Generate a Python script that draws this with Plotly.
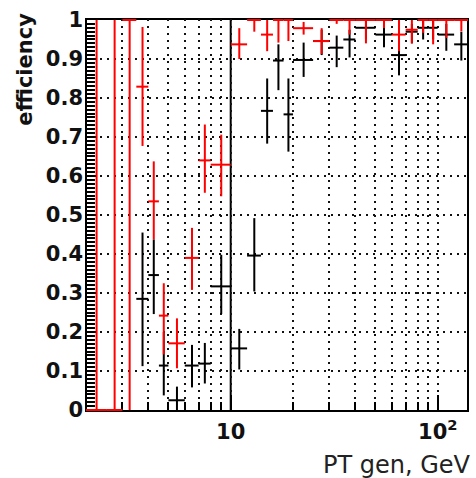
import numpy as np
import plotly.graph_objects as go

# bin edges in PT gen (GeV)
bin_lo = [2, 2.5, 3, 3.5, 4, 4.5, 5, 6, 7, 8, 10, 12, 14, 16, 18, 20, 25, 30, 35, 40, 50, 60, 70, 80, 90, 100, 120]
bin_hi = [2.5, 3, 3.5, 4, 4.5, 5, 6, 7, 8, 10, 12, 14, 16, 18, 20, 25, 30, 35, 40, 50, 60, 70, 80, 90, 100, 120, 140]

# red series: efficiency, lower bound, upper bound
red_eff = [0, 0, 1, 0.829, 0.535, 0.242, 0.171, 0.39, 0.64, 0.629, 0.9375, 1.0, 0.9625, 1.0, 1.0, 0.979, 0.946,
           1.0, 1.0, 1.0, 1.0, 0.9625, 0.975, 1.0, 1.0, 1.0, 1.0]
red_low = [0, 0, 0, 0.677, 0.4375, 0.1425, 0.107, 0.308, 0.557, 0.548, 0.90, 0.97, 0.92, 0.942, 0.946, 0.9625, 0.9125,
           0.99, 0.9625, 0.94, 0.979, 0.92, 0.94, 0.967, 0.9375, 0.954, 0.971]
red_high = [1, 1, 1, 0.982, 0.6375, 0.325, 0.235, 0.467, 0.732, 0.706, 0.979, 1.0, 1.0, 1.0, 1.0, 0.995, 0.979,
            1.0, 1.0, 1.0, 1.0, 1.0, 1.0, 1.0, 1.0, 1.0, 1.0]

# black series
nan = float("nan")
black_eff = [nan, nan, nan, 0.285, 0.346, 0.114, 0.025, 0.114, 0.119, 0.317, 0.158, 0.396, 0.767, 0.896, 0.758,
             0.8975, 0.946, 0.929, 0.95, 0.98, 0.9625, 0.91, 0.97, 0.98, 0.98, 0.9625, 0.9375]
black_low = [nan, nan, nan, 0.1125, 0.246, 0.0375, 0.0, 0.058, 0.068, 0.246, 0.104, 0.304, 0.683, 0.82, 0.6625,
             0.854, 0.91, 0.879, 0.904, 0.95, 0.93, 0.858, 0.94, 0.95, 0.95, 0.921, 0.896]
black_high = [nan, nan, nan, 0.455, 0.4375, 0.2, 0.06, 0.167, 0.172, 0.398, 0.208, 0.492, 0.85, 0.9375, 0.85,
              0.942, 0.975, 0.96, 0.975, 1.0, 0.985, 0.95, 0.99, 1.0, 1.0, 0.99, 0.97]

x_tick_vals = [10, 100]
x_tick_text = ["10", "10<sup>2</sup>"]
x_minor_vals = [3, 4, 5, 6, 7, 8, 9, 20, 30, 40, 50, 60, 70, 80, 90]
y_tick_vals = [0, 0.1, 0.2, 0.3, 0.4, 0.5, 0.6, 0.7, 0.8, 0.9, 1.0]
y_tick_text = ["0", "0.1", "0.2", "0.3", "0.4", "0.5", "0.6", "0.7", "0.8", "0.9", "1"]

lo = np.array(bin_lo, float)
hi = np.array(bin_hi, float)
xc = (lo + hi) / 2


def series(eff, low, high, color):
    e = np.array(eff, float)
    return go.Scatter(
        x=xc, y=e, mode="markers",
        marker=dict(size=2, color=color),
        error_x=dict(type="data", symmetric=False, array=hi - xc, arrayminus=xc - lo,
                     width=0, thickness=2, color=color),
        error_y=dict(type="data", symmetric=False, array=np.array(high, float) - e,
                     arrayminus=e - np.array(low, float), width=0, thickness=2, color=color),
        cliponaxis=False, showlegend=False, hoverinfo="skip",
    )


fig = go.Figure()
fig.add_trace(series(black_eff, black_low, black_high, "black"))
fig.add_trace(series(red_eff, red_low, red_high, "#ff0000"))

tickfont = dict(family="DejaVu Sans", size=21, color="#111", weight="bold")
grid_dash = "2px,5px"

fig.update_layout(
    width=476, height=478,
    margin=dict(l=86, r=8, t=9, b=67),
    paper_bgcolor="white", plot_bgcolor="white",
    xaxis=dict(
        type="log", range=[np.log10(2), np.log10(140)],
        tickvals=x_tick_vals, ticktext=x_tick_text,
        ticks="inside", ticklen=16, tickwidth=2, tickcolor="black",
        showline=False, ticklabeloverflow="allow",
        showgrid=True, gridcolor="#111", gridwidth=1.5, griddash=grid_dash,
        minor=dict(tickvals=x_minor_vals, ticks="inside", ticklen=9, tickwidth=2, tickcolor="black",
                   showgrid=True, gridcolor="#111", gridwidth=1.5, griddash=grid_dash),
        tickfont=tickfont, ticklabelstandoff=6, zeroline=False, layer="below traces",
    ),
    yaxis=dict(
        range=[-0.0025, 1.0025], tickvals=y_tick_vals, ticktext=y_tick_text,
        ticks="inside", ticklen=10, tickwidth=2, tickcolor="black",
        showline=False, ticklabeloverflow="allow",
        showgrid=True, gridcolor="#111", gridwidth=1.5, griddash=grid_dash,
        minor=dict(dtick=0.01, ticks="inside", ticklen=9, tickwidth=1.5, tickcolor="black", showgrid=False),
        tickfont=tickfont, zeroline=False, layer="below traces", ticklabelstandoff=2,
    ),
    shapes=[
        dict(type="rect", xref="paper", yref="paper", x0=0, x1=1, y0=0, y1=1, layer="below",
             line=dict(color="black", width=2)),
        dict(type="line", xref="x", yref="y", x0=10, x1=10, y0=0, y1=1, layer="below",
             line=dict(color="black", width=2)),
    ],
    annotations=[
        dict(text="efficiency", textangle=-90, xref="paper", yref="paper",
             x=-0.16, y=1.022, xanchor="center", yanchor="top", showarrow=False,
             font=dict(family="DejaVu Sans", size=21, color="#111", weight="bold")),
        dict(text="PT gen, GeV", xref="paper", yref="paper",
             x=1.012, y=-0.098, xanchor="right", yanchor="top", showarrow=False,
             font=dict(family="DejaVu Sans", size=24, color="#222")),
    ],
)

fig.write_html("out.html")
